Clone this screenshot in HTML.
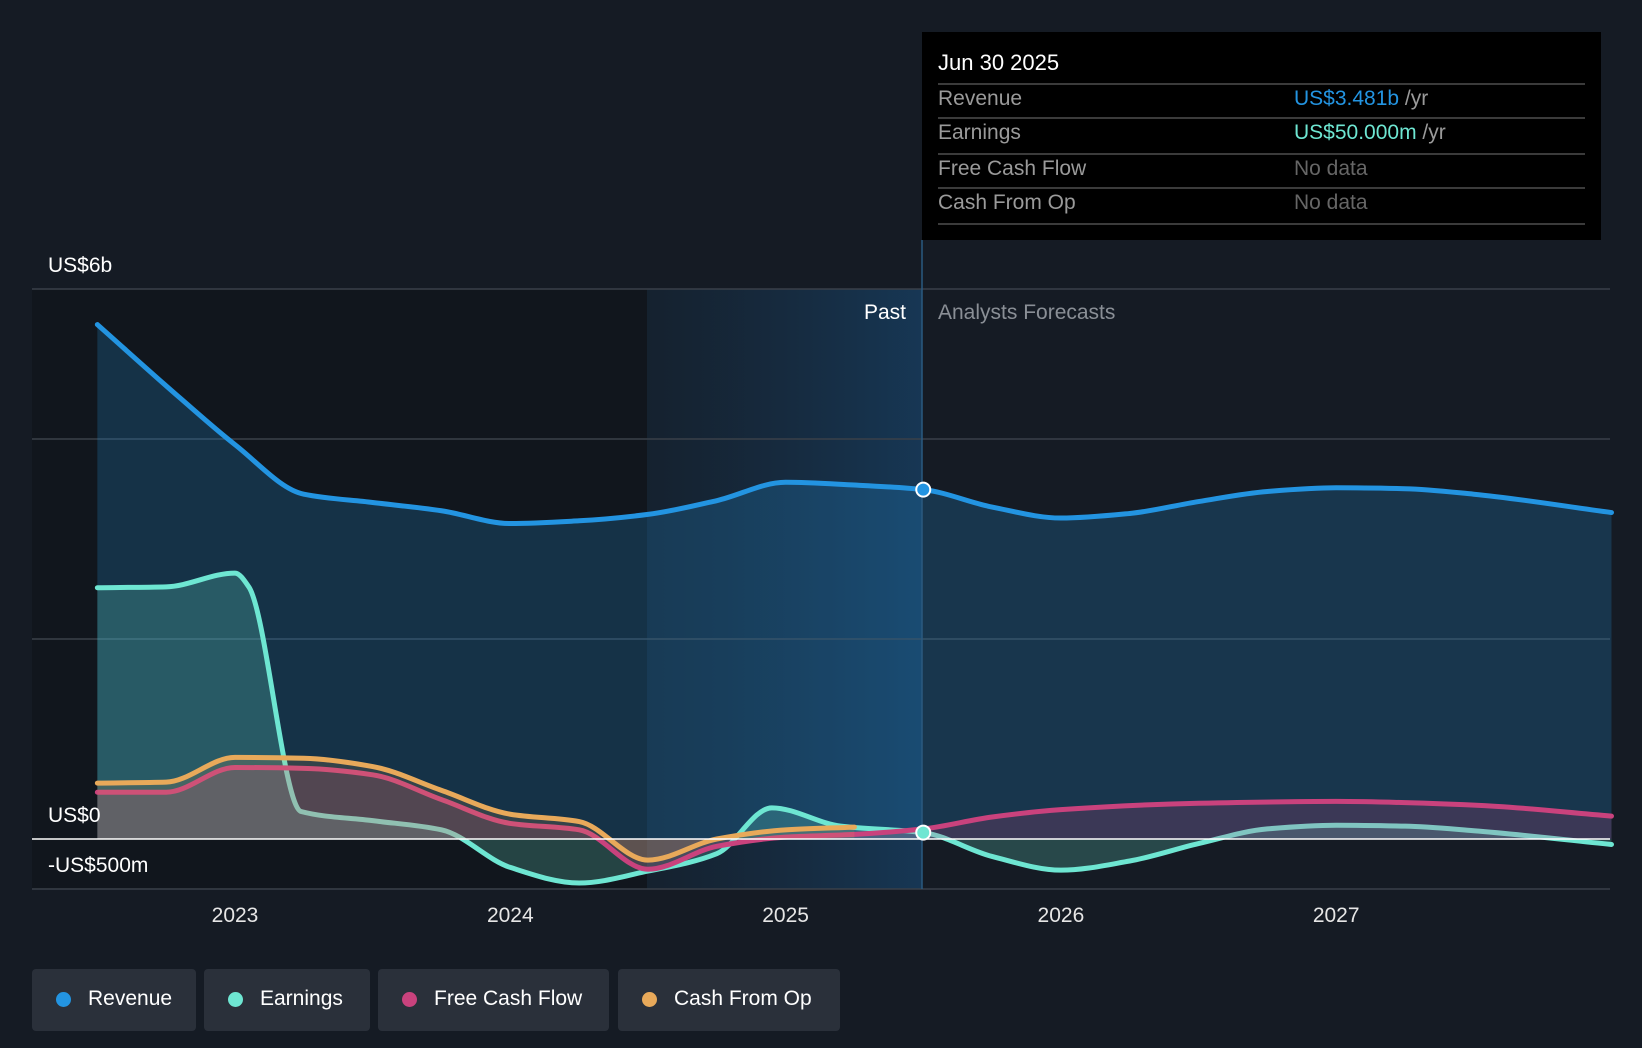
<!DOCTYPE html>
<html><head><meta charset="utf-8"><style>
body{margin:0;background:#151b24;font-family:"Liberation Sans",sans-serif;}
svg{display:block}
</style></head><body>
<svg id="c" width="1642" height="1048" viewBox="0 0 1642 1048">
<defs>
<linearGradient id="pastBand" x1="0" x2="1" y1="0" y2="0"><stop offset="0" stop-color="#15283a" stop-opacity="0.5"/><stop offset="1" stop-color="#173a5a" stop-opacity="0.9"/></linearGradient>
</defs>
<rect x="0" y="0" width="1642" height="1048" fill="#151b24"/>
<rect x="32" y="289" width="615" height="600" fill="#11161d"/>
<rect x="647" y="289" width="275" height="600" fill="url(#pastBand)"/>
<g id="grid"></g>
<g id="series"></g>
<g id="labels"></g>
</svg>
<script>
const years=[2022.5,2022.8,2023.0,2023.25,2023.5,2023.75,2024.0,2024.25,2024.5,2024.75,2025.0,2025.25,2025.5,2025.75,2026.0,2026.25,2026.5,2026.75,2027.0,2027.25,2027.5,2028.0];
const revenue=[5.61,4.81,4.30,3.76,3.67,3.58,3.44,3.47,3.54,3.69,3.89,3.86,3.81,3.62,3.50,3.55,3.68,3.79,3.83,3.82,3.76,3.56];
const earningsYears=[2022.5,2022.75,2023.0,2023.05,2023.24,2023.5,2023.75,2024.0,2024.25,2024.5,2024.75,2024.95,2025.2,2025.5,2025.75,2026.0,2026.25,2026.5,2026.75,2027.0,2027.25,2027.5,2028.0];
const earnings=[2.74,2.75,2.90,2.75,0.30,0.20,0.10,-0.31,-0.48,-0.35,-0.16,0.34,0.14,0.07,-0.19,-0.34,-0.24,-0.05,0.11,0.15,0.14,0.09,-0.06];
const fcfYears=[2022.5,2022.75,2023.0,2023.25,2023.5,2023.75,2024.0,2024.25,2024.5,2024.75,2025.0,2025.25,2025.5,2025.75,2026.0,2026.5,2027.0,2027.5,2028.0];
const fcf=[0.51,0.51,0.78,0.77,0.70,0.43,0.17,0.10,-0.33,-0.08,0.02,0.05,0.11,0.24,0.32,0.39,0.41,0.37,0.25];
const cfoYears=[2022.5,2022.75,2023.0,2023.25,2023.5,2023.75,2024.0,2024.25,2024.5,2024.75,2025.0,2025.25];
const cfo=[0.61,0.62,0.89,0.88,0.79,0.53,0.27,0.19,-0.23,0.0,0.10,0.13];
const xTicks=[2023,2024,2025,2026,2027];
const yTickLabels=["US$6b","US$0","-US$500m"];
const yTickValues=[6,0,-0.5];

const NS="http://www.w3.org/2000/svg";
const X=y=>235+(y-2023)*275.3;
const Y=v=>839-v*91.7;
function el(tag,attrs,parent){const e=document.createElementNS(NS,tag);for(const k in attrs)e.setAttribute(k,attrs[k]);parent.appendChild(e);return e;}
function pathD(xs,vs){
 const p=xs.map((x,i)=>[X(x),Y(vs[i])]);const n=p.length;
 const d=[],m=new Array(n);
 for(let i=0;i<n-1;i++)d.push((p[i+1][1]-p[i][1])/(p[i+1][0]-p[i][0]));
 m[0]=d[0];m[n-1]=d[n-2];
 for(let i=1;i<n-1;i++){ if(d[i-1]*d[i]<=0)m[i]=0; else {const h0=p[i][0]-p[i-1][0],h1=p[i+1][0]-p[i][0];const w1=2*h1+h0,w2=h1+2*h0;m[i]=(w1+w2)/(w1/d[i-1]+w2/d[i]);}}
 let s="M"+p[0][0]+","+p[0][1];
 for(let i=0;i<n-1;i++){const h=(p[i+1][0]-p[i][0])/3;
 s+=" C"+(p[i][0]+h)+","+(p[i][1]+m[i]*h)+" "+(p[i+1][0]-h)+","+(p[i+1][1]-m[i+1]*h)+" "+p[i+1][0]+","+p[i+1][1];}
 return s;}
const grid=document.getElementById('grid'),ser=document.getElementById('series'),lab=document.getElementById('labels');
[289,439,639,889].forEach(py=>{const l=el('line',{x1:32,x2:1610,y1:py,y2:py,stroke:'#3a4049','stroke-width':1.5},grid);

});
function series(xs,vs,color,fillOp,name){
 const d=pathD(xs,vs);
 const a=el('path',{d:d+" L"+X(xs[xs.length-1])+","+Y(0)+" L"+X(xs[0])+","+Y(0)+" Z",fill:color,'fill-opacity':fillOp},ser);
 
 
 const l=el('path',{d:d,fill:'none',stroke:color,'stroke-width':5,'stroke-linecap':'round'},ser);
 
 
}
series(years,revenue,'#2394e1',0.22,'revenue');
series(earningsYears,earnings,'#6ee6d2',0.22,'earnings');
series(fcfYears,fcf,'#c9427d',0.2,'free-cash-flow');
series(cfoYears,cfo,'#e8a95a',0.15,'cash-from-op');
const z=el('line',{x1:32,x2:1610,y1:Y(0),y2:Y(0),stroke:'#ffffff','stroke-width':1.5},ser);


const pl=el('line',{x1:922,x2:922,y1:240,y2:889,stroke:'#2a5a80','stroke-width':1.5},ser);


[[revenue[12],'#2394e1','revenue-marker'],[0.07,'#6ee6d2','earnings-marker']].forEach(m=>{
 const c=el('circle',{cx:X(2025.5),cy:Y(m[0]),r:7,fill:m[1],stroke:'#fff','stroke-width':2},ser);
 
 });
xTicks.forEach(t=>{const tx=el('text',{x:X(t),y:922,fill:'#e6e6e6','font-size':21,'text-anchor':'middle'},lab);tx.textContent=t;

});
const yPos=[272,822,872];
yTickLabels.forEach((t,i)=>{const tx=el('text',{x:48,y:yPos[i],fill:'#ffffff','font-size':21},lab);tx.textContent=t;

});
</script>
<div style="position:absolute;left:820px;top:301px;width:86px;text-align:right;color:#fff;font-size:21px">Past</div>
<div style="position:absolute;left:938px;top:301px;color:#8a8f96;font-size:21px">Analysts Forecasts</div>
<div style="position:absolute;left:922px;top:32px;width:679px;height:208px;background:#000;color:#fff;font-size:21px">
 <div style="position:absolute;left:16px;top:18px;font-size:22px">Jun 30 2025</div>
 <div style="position:absolute;left:16px;right:16px;top:51px;border-top:2px solid #3b3b3b"></div>
 <div style="position:absolute;left:16px;top:55px;color:#9a9a9a">Revenue</div><div style="position:absolute;left:372px;top:55px;color:#2394e1">US$3.481b <span style="color:#9a9a9a">/yr</span></div>
 <div style="position:absolute;left:16px;right:16px;top:85px;border-top:2px solid #3b3b3b"></div>
 <div style="position:absolute;left:16px;top:89px;color:#9a9a9a">Earnings</div><div style="position:absolute;left:372px;top:89px;color:#6ee6d2">US$50.000m <span style="color:#9a9a9a">/yr</span></div>
 <div style="position:absolute;left:16px;right:16px;top:121px;border-top:2px solid #3b3b3b"></div>
 <div style="position:absolute;left:16px;top:125px;color:#9a9a9a">Free Cash Flow</div><div style="position:absolute;left:372px;top:125px;color:#666">No data</div>
 <div style="position:absolute;left:16px;right:16px;top:155px;border-top:2px solid #3b3b3b"></div>
 <div style="position:absolute;left:16px;top:159px;color:#9a9a9a">Cash From Op</div><div style="position:absolute;left:372px;top:159px;color:#666">No data</div>
 <div style="position:absolute;left:16px;right:16px;top:191px;border-top:2px solid #3b3b3b"></div>
</div>
<div style="position:absolute;left:0;top:969px;font-size:21px;color:#fff">
 <div style="position:absolute;left:32px;width:164px;height:62px;background:#2a303a;border-radius:4px"><span style="position:absolute;left:24px;top:23px;width:15px;height:15px;border-radius:50%;background:#2394e1"></span><span style="position:absolute;left:56px;top:18px">Revenue</span></div>
 <div style="position:absolute;left:204px;width:166px;height:62px;background:#2a303a;border-radius:4px"><span style="position:absolute;left:24px;top:23px;width:15px;height:15px;border-radius:50%;background:#6ee6d2"></span><span style="position:absolute;left:56px;top:18px">Earnings</span></div>
 <div style="position:absolute;left:378px;width:231px;height:62px;background:#2a303a;border-radius:4px"><span style="position:absolute;left:24px;top:23px;width:15px;height:15px;border-radius:50%;background:#c9427d"></span><span style="position:absolute;left:56px;top:18px">Free Cash Flow</span></div>
 <div style="position:absolute;left:618px;width:222px;height:62px;background:#2a303a;border-radius:4px"><span style="position:absolute;left:24px;top:23px;width:15px;height:15px;border-radius:50%;background:#e8a95a"></span><span style="position:absolute;left:56px;top:18px">Cash From Op</span></div>
</div>
</body></html>
